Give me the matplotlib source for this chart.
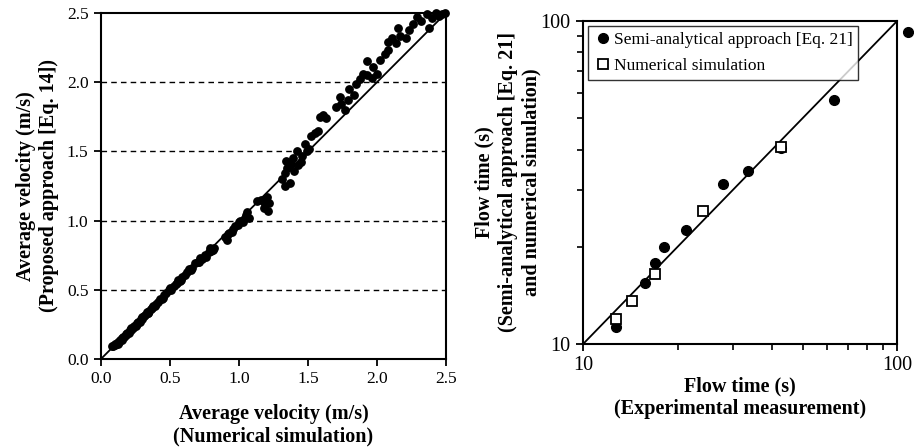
import numpy as np
import matplotlib.pyplot as plt

plt.rcParams['font.family'] = ['Liberation Serif', 'DejaVu Serif']

# left panel: average velocity, numerical simulation vs proposed approach
vel_sim = [0.08, 0.09, 0.10, 0.10, 0.11, 0.12, 0.13, 0.14, 0.15, 0.16, 0.17, 0.18, 0.19, 0.20,
           0.21, 0.22, 0.23, 0.24, 0.25, 0.26, 0.27, 0.28, 0.29, 0.30, 0.31, 0.32, 0.33, 0.34,
           0.35, 0.36, 0.37, 0.38, 0.40, 0.41, 0.43, 0.44, 0.46, 0.47, 0.49, 0.50, 0.51, 0.53,
           0.55, 0.56, 0.57, 0.59, 0.61, 0.62, 0.64, 0.66, 0.68, 0.70, 0.72, 0.73, 0.75, 0.76,
           0.78, 0.79, 0.80, 0.82, 0.90, 0.91, 0.92, 0.93, 0.95, 0.96, 0.97, 0.99, 1.00, 1.01,
           1.03, 1.04, 1.05, 1.06, 1.07, 1.13, 1.16, 1.18, 1.19, 1.20, 1.21, 1.22, 1.31, 1.33,
           1.33, 1.34, 1.35, 1.37, 1.38, 1.39, 1.40, 1.42, 1.43, 1.45, 1.46, 1.48, 1.49, 1.51,
           1.52, 1.55, 1.57, 1.59, 1.61, 1.63, 1.70, 1.73, 1.74, 1.77, 1.79, 1.80, 1.83, 1.85,
           1.88, 1.90, 1.93, 1.93, 1.96, 1.97, 2.00, 2.02, 2.06, 2.08, 2.08, 2.11, 2.14, 2.15,
           2.17, 2.21, 2.23, 2.26, 2.29, 2.32, 2.36, 2.38, 2.40, 2.43, 2.45, 2.47, 2.49,
           0.12, 0.15, 0.18, 0.22, 0.26, 0.30, 0.34, 0.39, 0.45, 0.54, 0.58, 0.65, 0.71, 0.81]
vel_prop = [0.09, 0.09, 0.10, 0.11, 0.11, 0.12, 0.12, 0.14, 0.14, 0.16, 0.16, 0.18, 0.19, 0.19,
            0.21, 0.22, 0.22, 0.24, 0.24, 0.26, 0.27, 0.27, 0.29, 0.29, 0.31, 0.32, 0.34, 0.33,
            0.35, 0.36, 0.37, 0.38, 0.40, 0.41, 0.43, 0.43, 0.46, 0.48, 0.50, 0.51, 0.50, 0.53,
            0.55, 0.57, 0.56, 0.59, 0.61, 0.63, 0.65, 0.66, 0.69, 0.70, 0.73, 0.72, 0.75, 0.74,
            0.77, 0.80, 0.78, 0.80, 0.88, 0.86, 0.90, 0.91, 0.92, 0.94, 0.96, 0.97, 0.99, 1.00,
            0.99, 1.02, 1.04, 1.06, 1.02, 1.14, 1.15, 1.09, 1.12, 1.17, 1.07, 1.13, 1.30, 1.25,
            1.34, 1.43, 1.38, 1.27, 1.41, 1.45, 1.36, 1.50, 1.40, 1.42, 1.47, 1.55, 1.50, 1.52,
            1.61, 1.63, 1.65, 1.75, 1.76, 1.74, 1.82, 1.89, 1.84, 1.80, 1.87, 1.95, 1.91, 1.99,
            2.02, 2.06, 2.05, 2.15, 2.03, 2.11, 2.06, 2.16, 2.20, 2.23, 2.29, 2.32, 2.28, 2.39,
            2.33, 2.32, 2.38, 2.42, 2.47, 2.44, 2.49, 2.39, 2.46, 2.50, 2.48, 2.49, 2.50,
            0.11, 0.15, 0.17, 0.21, 0.25, 0.30, 0.33, 0.38, 0.44, 0.54, 0.57, 0.64, 0.70, 0.79]

# right panel: flow time, experiment vs semi-analytical / numerical
exp_semi = [12.7, 15.7, 16.9, 18.1, 21.2, 27.8, 33.4, 42.7, 63.0, 108.0]
semi = [11.3, 15.4, 17.8, 19.9, 22.5, 31.2, 34.3, 40.5, 56.9, 92.6]
exp_num = [12.7, 14.3, 16.9, 24.0, 42.7]
num = [11.95, 13.6, 16.5, 25.8, 40.8]

fig = plt.figure(figsize=(9.14, 4.47), dpi=100)
ax1 = fig.add_axes([0.1105, 0.197, 0.3775, 0.774])
ax2 = fig.add_axes([0.638, 0.2305, 0.3435, 0.7225])

lab_font = dict(fontsize=14.5, fontweight='bold', linespacing=1.15)

# ---- left
for g in [0.5, 1.0, 1.5, 2.0]:
    ax1.axhline(g, color='black', ls=(0, (4, 3)), lw=1.0, zorder=1)
ax1.plot([0, 2.5], [0, 2.5], color='black', lw=1.3, zorder=2)
ax1.plot(vel_sim, vel_prop, 'o', color='black', ms=5.3, zorder=3, clip_on=False)
ax1.set_xlim(0, 2.5)
ax1.set_ylim(0, 2.5)
ticks = [0.0, 0.5, 1.0, 1.5, 2.0, 2.5]
ax1.set_xticks(ticks)
ax1.set_yticks(ticks)
ax1.set_xticklabels([f'{t:.1f}' for t in ticks])
ax1.set_yticklabels([f'{t:.1f}' for t in ticks])
ax1.set_xlabel('Average velocity (m/s)\n(Numerical simulation)', labelpad=12, **lab_font)
ax1.set_ylabel('Average velocity (m/s)\n(Proposed approach [Eq. 14])', labelpad=6, **lab_font)
ax1.tick_params(labelsize=12.5)

# ---- right
ax2.set_xscale('log')
ax2.set_yscale('log')
ax2.plot([10, 100], [10, 100], color='black', lw=1.3, zorder=2)
ax2.plot(exp_semi, semi, 'o', color='black', ms=7, zorder=3, clip_on=False,
         label='Semi-analytical approach [Eq. 21]')
ax2.plot(exp_num, num, 's', mfc='white', mec='black', mew=1.3, ms=7, zorder=4,
         label='Numerical simulation')
ax2.set_xlim(10, 100)
ax2.set_ylim(10, 100)
ax2.set_xticks([10, 100])
ax2.set_yticks([10, 100])
ax2.set_xticklabels(['10', '100'])
ax2.set_yticklabels(['10', '100'])
ax2.set_xlabel('Flow time (s)\n(Experimental measurement)', labelpad=1, **lab_font)
ax2.set_ylabel('Flow time (s)\n(Semi-analytical approach [Eq. 21]\nand numerical simulation)',
               labelpad=-1, fontsize=14.5, fontweight='bold', linespacing=1.25)
ax2.tick_params(labelsize=14.5)
leg = ax2.legend(loc='upper left', fontsize=12.5, frameon=True, fancybox=False,
                 borderaxespad=0.3, handletextpad=0.1, handlelength=1.0,
                 borderpad=0.35, labelspacing=0.55)
leg.get_frame().set_edgecolor('black')
leg.get_frame().set_linewidth(1.0)

for ax in (ax1, ax2):
    for sp in ax.spines.values():
        sp.set_linewidth(1.5)
    ax.tick_params(which='major', direction='out', length=5, width=1.3, pad=4)
    ax.tick_params(which='minor', direction='out', length=4, width=1.2, labelleft=False, labelbottom=False)

fig.savefig('out.png', dpi=100)
